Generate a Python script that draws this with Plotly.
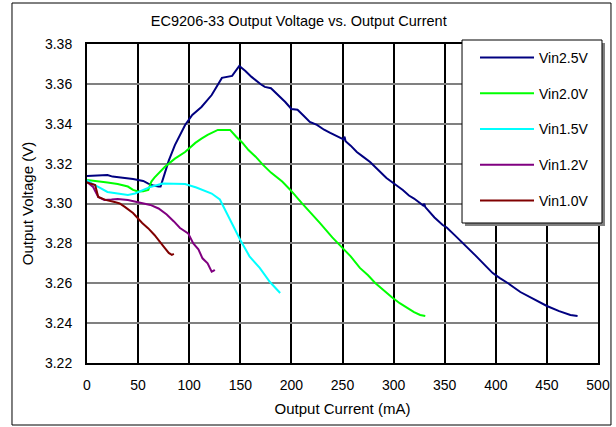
import plotly.graph_objects as go

# ---------------- data ----------------
series_names = ["Vin2.5V", "Vin2.0V", "Vin1.5V", "Vin1.2V", "Vin1.0V"]
series_colors = ["#000080", "#00FF00", "#00FFFF", "#800080", "#800000"]

vin25_i = [0, 5, 10, 20, 25, 35, 45, 50, 55, 60, 65, 70, 72, 76, 80, 86, 92, 96, 103, 112,
           122, 128, 132, 142, 149, 155, 161, 170, 174, 180, 187, 194, 200, 206, 212, 218,
           225, 232, 238, 245, 251, 252, 253, 258, 264, 270, 277, 285, 293, 301, 309, 315,
           320, 329, 330, 331, 340, 348, 352, 360, 368, 373, 380, 391, 397, 404, 412, 424,
           437, 450, 462, 473, 480]
vin25_v = [3.3138, 3.3140, 3.3142, 3.3143, 3.3135, 3.3130, 3.3123, 3.3118, 3.3113, 3.3100,
           3.3090, 3.3085, 3.3085, 3.3150, 3.3215, 3.3293, 3.3355, 3.3394, 3.3444, 3.3484,
           3.3544, 3.3600, 3.3630, 3.3640, 3.3690, 3.3665, 3.3635, 3.3598, 3.3585, 3.3578,
           3.3545, 3.3509, 3.3474, 3.3470, 3.3440, 3.3409, 3.3394, 3.3370, 3.3354, 3.3335,
           3.3322, 3.3335, 3.3312, 3.3290, 3.3258, 3.3235, 3.3208, 3.3168, 3.3128, 3.3098,
           3.3068, 3.3040, 3.3025, 3.2990, 3.2998, 3.2982, 3.2930, 3.2892, 3.2880, 3.2840,
           3.2802, 3.2777, 3.2740, 3.2682, 3.2651, 3.2626, 3.2600, 3.2556, 3.2520, 3.2486,
           3.2460, 3.2441, 3.2436]

vin20_i = [0, 10, 20, 30, 40, 45, 50, 55, 60, 63, 66, 76, 86, 96, 106, 112, 118, 128, 140,
           146, 152, 158, 165, 172, 180, 191, 199, 210, 220, 228, 240, 250, 258, 267, 275,
           282, 290, 298, 306, 313, 320, 326, 331]
vin20_v = [3.3118, 3.3110, 3.3105, 3.3098, 3.3085, 3.3068, 3.3060, 3.3062, 3.3068, 3.3110,
           3.3130, 3.3183, 3.3225, 3.3258, 3.3304, 3.3325, 3.3344, 3.3369, 3.3369, 3.3335,
           3.3305, 3.3268, 3.3235, 3.3195, 3.3155, 3.3110, 3.3068, 3.3003, 3.2948, 3.2902,
           3.2830, 3.2777, 3.2735, 3.2677, 3.2640, 3.2601, 3.2565, 3.2531, 3.2500, 3.2476,
           3.2455, 3.2441, 3.2436]

vin15_i = [0, 5, 11, 20, 30, 40, 47, 55, 62, 74, 85, 96, 107, 115, 122, 130, 135, 140, 145,
           150, 159, 169, 179, 185, 189]
vin15_v = [3.3118, 3.3100, 3.3083, 3.3058, 3.3050, 3.3043, 3.3050, 3.3068, 3.3083, 3.3100,
           3.3100, 3.3098, 3.3080, 3.3065, 3.3050, 3.3020, 3.2970, 3.2917, 3.2865, 3.2817,
           3.2735, 3.2677, 3.2606, 3.2570, 3.2551]

vin12_i = [0, 6, 11, 17, 24, 30, 40, 50, 62, 70, 78, 85, 91, 99, 104, 109, 113, 118, 122,
           124, 125]
vin12_v = [3.3108, 3.3083, 3.3033, 3.3018, 3.3020, 3.3023, 3.3018, 3.3008, 3.2993, 3.2975,
           3.2945, 3.2910, 3.2877, 3.2850, 3.2800, 3.2770, 3.2725, 3.2700, 3.2658, 3.2663,
           3.2668]

vin10_i = [0, 8, 11, 18, 27, 32, 37, 45, 54, 60, 66, 72, 76, 80, 83, 85]
vin10_v = [3.3105, 3.3093, 3.3033, 3.3018, 3.3008, 3.3000, 3.2983, 3.2952, 3.2902, 3.2875,
           3.2842, 3.2800, 3.2777, 3.2752, 3.2742, 3.2747]

x_ticks = [0, 50, 100, 150, 200, 250, 300, 350, 400, 450, 500]
y_ticks = [3.22, 3.24, 3.26, 3.28, 3.30, 3.32, 3.34, 3.36, 3.38]

title_text = "EC9206-33 Output Voltage vs. Output Current"
x_title = "Output Current (mA)"
y_title = "Output Voltage (V)"

# ---------------- figure ----------------
FONT = "Liberation Sans, Arial, sans-serif"

xs = [vin25_i, vin20_i, vin15_i, vin12_i, vin10_i]
ys = [vin25_v, vin20_v, vin15_v, vin12_v, vin10_v]

fig = go.Figure()
for name, color, xv, yv in zip(series_names, series_colors, xs, ys):
    fig.add_trace(go.Scatter(
        x=xv, y=yv, mode="lines", name=name, legendgroup=name,
        line=dict(color=color, width=2),
    ))

fig.update_layout(
    template="none",
    width=616, height=427,
    margin=dict(l=87, r=18, t=44, b=64),
    paper_bgcolor="white", plot_bgcolor="white",
    font=dict(family=FONT, size=14, color="black"),
    title=dict(text=title_text, x=0.485, xanchor="center", y=0.951, yanchor="middle",
               font=dict(family=FONT, size=14.5, color="black")),
    showlegend=True,
    legend=dict(
        x=0.7593, y=1.0063, xanchor="left", yanchor="top",
        bgcolor="rgba(0,0,0,0)", borderwidth=0,
        font=dict(family=FONT, size=14, color="black"),
        tracegroupgap=14.5, itemwidth=54,
    ),
)

fig.update_xaxes(
    range=[0, 500], tickvals=x_ticks, ticktext=[str(v) for v in x_ticks],
    showgrid=True, gridcolor="black", gridwidth=1.5,
    showline=True, linecolor="black", linewidth=2, mirror=True,
    ticks="outside", ticklen=8, tickcolor="white", zeroline=False,
    title=dict(text=x_title, standoff=12, font=dict(family=FONT, size=15)),
    tickfont=dict(family=FONT, size=14),
)
fig.update_yaxes(
    range=[3.22, 3.38], tickvals=y_ticks, ticktext=["%.2f" % v for v in y_ticks],
    showgrid=True, gridcolor="#808080", gridwidth=2,
    showline=True, linecolor="black", linewidth=2, mirror=True,
    ticks="", zeroline=False, ticklabelstandoff=10,
    title=dict(text=y_title, standoff=8, font=dict(family=FONT, size=15)),
    tickfont=dict(family=FONT, size=14),
)

# chart-area outer border, legend box and its shadow (decorations, paper coords)
fig.add_shape(type="rect", xref="paper", yref="paper",
              x0=-0.1468, x1=1.0254, y0=-0.1944, y1=1.1285,
              line=dict(color="black", width=1), fillcolor="rgba(0,0,0,0)", layer="above")
fig.add_shape(type="rect", xref="paper", yref="paper",
              x0=0.7397, x1=1.0137, y0=0.4295, y1=1.0031,
              line=dict(width=0), fillcolor="#808080", layer="above")
fig.add_shape(type="rect", xref="paper", yref="paper",
              x0=0.7339, x1=1.0078, y0=0.4389, y1=1.0125,
              line=dict(color="black", width=1), fillcolor="white", layer="above")

fig.write_html("out.html")
